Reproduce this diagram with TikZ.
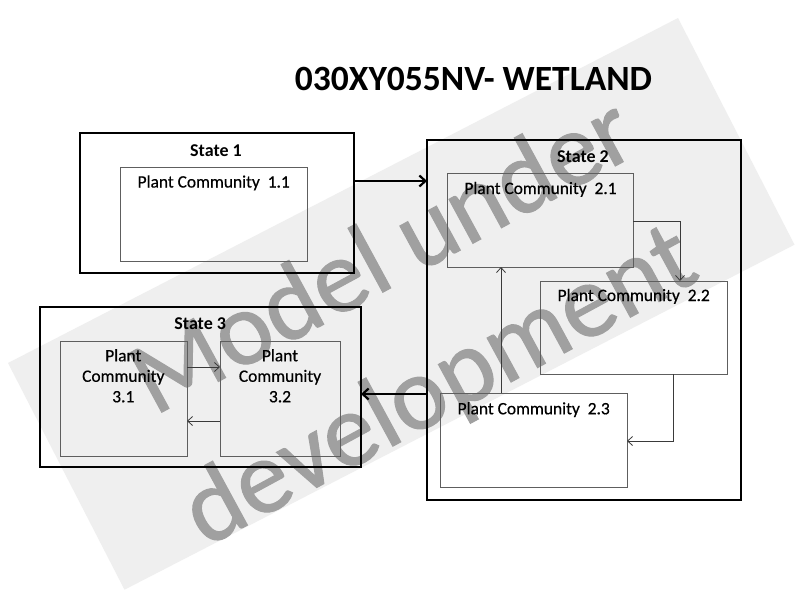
\documentclass[tikz,border=0pt]{standalone}
\usepackage{fontspec}
\setmainfont{Carlito}
\newfontface\pcface[FakeBold=0.5]{Carlito}
\newfontface\wmface[FakeBold=1]{Carlito}
\usetikzlibrary{arrows.meta}
\definecolor{bandgray}{HTML}{EFEFEF}
\definecolor{wmgray}{HTML}{A0A0A0}
\definecolor{boxgray}{HTML}{5E5E5E}
\definecolor{linkgray}{HTML}{3A3A3A}
\begin{document}
\begin{tikzpicture}[x=1pt,y=-1pt,
  statebox/.style={draw=black, line width=2.6pt, inner sep=0pt, outer sep=0pt},
  pcbox/.style={draw=boxgray, line width=1pt, inner sep=0pt, outer sep=0pt},
  statelabel/.style={font=\fontsize{18}{21}\selectfont\bfseries, anchor=base, inner sep=0pt},
  pclabel/.style={font=\fontsize{17.4}{20.5}\selectfont\pcface, anchor=base, inner sep=0pt, align=center},
  bigarrow/.style={line width=2.2pt, -{Straight Barb[length=6pt,width=11pt]}},
  smallarrow/.style={draw=linkgray, line width=0.8pt, -{Straight Barb[length=5pt,width=9pt]}},
  wmtext/.style={text=wmgray, font=\fontsize{105}{120}\selectfont\wmface, anchor=base, inner sep=0pt, rotate=28.5}]
\useasboundingbox (0,0) rectangle (800,600);
\fill[white] (0,0) rectangle (800,600);
% watermark band
\fill[bandgray] (8,363) -- (678,18) -- (794.5,244.7) -- (124.5,589.7) -- cycle;
\node[wmtext] (wm1) at (398,284) {Model under};
\node[wmtext] (wm2) at (454,413) {development};
% title
\node[font=\fontsize{35.5}{40}\selectfont\bfseries, anchor=base, inner sep=0pt] (title) at (473.5,90) {030XY055NV- WETLAND};
% State 1
\node[statebox, minimum width=274pt, minimum height=140pt] (s1) at (217,203) {};
\node[statelabel] (s1t) at (216,156.7) {State 1};
\node[pcbox, minimum width=187pt, minimum height=94pt] (pc11) at (213.5,214) {};
\node[pclabel] (pc11t) at (213.7,187.5) {Plant Community\ \ 1.1};
% State 2
\node[statebox, minimum width=314pt, minimum height=360pt] (s2) at (584,320) {};
\node[statelabel] (s2t) at (583,162.3) {State 2};
\node[pcbox, minimum width=186pt, minimum height=94pt] (pc21) at (540,220) {};
\node[pclabel] (pc21t) at (540.5,194) {Plant Community\ \ 2.1};
\node[pcbox, minimum width=187pt, minimum height=93pt] (pc22) at (633.5,327.5) {};
\node[pclabel] (pc22t) at (633.7,301) {Plant Community\ \ 2.2};
\node[pcbox, minimum width=187pt, minimum height=94pt] (pc23) at (533.5,440) {};
\node[pclabel] (pc23t) at (533.7,414.3) {Plant Community\ \ 2.3};
% State 3
\node[statebox, minimum width=321pt, minimum height=160pt] (s3) at (200.5,387) {};
\node[statelabel] (s3t) at (200.2,329) {State 3};
\node[pcbox, minimum width=127pt, minimum height=115pt] (pc31) at (123.5,398.5) {};
\node[pclabel] (pc31t) at (123.3,402.3) {Plant\\Community\\3.1};
\node[pcbox, minimum width=120pt, minimum height=115pt] (pc32) at (280,398.5) {};
\node[pclabel] (pc32t) at (280,402.3) {Plant\\Community\\3.2};
% bend coordinates
\coordinate (y12) at (0,181);
\coordinate (y23) at (0,394);
\coordinate (b1) at (680,221);
\coordinate (b2) at (673,441);
\coordinate (b3) at (501,330);
\coordinate (y3a) at (0,367);
\coordinate (y3b) at (0,421);
% connectors
\draw[bigarrow] (s1.east |- y12) -- (s2.west |- y12);
\draw[bigarrow] (s2.west |- y23) -- (s3.east |- y23);
\draw[smallarrow] (pc21.east |- b1) -- (b1) -- (b1 |- pc22.north);
\draw[smallarrow] (b2 |- pc22.south) -- (b2) -- (pc23.east |- b2);
\draw[smallarrow] (pc23.north -| b3) -- (pc21.south -| b3);
\draw[smallarrow] (pc31.east |- y3a) -- (pc32.west |- y3a);
\draw[smallarrow] (pc32.west |- y3b) -- (pc31.east |- y3b);
\end{tikzpicture}
\end{document}
